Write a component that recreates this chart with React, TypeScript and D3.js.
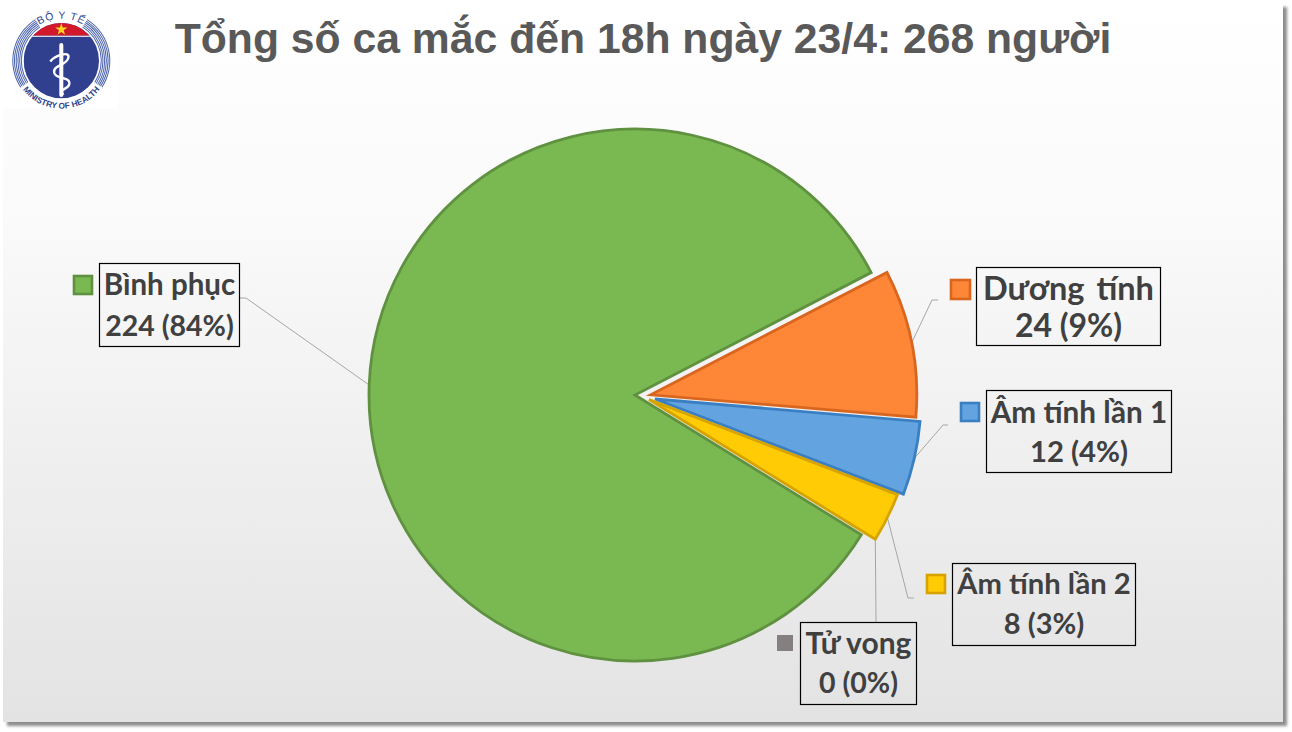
import React from "react"
import * as d3 from "d3"

// slices, in drawing order, clockwise from the start angle
const categories = ["Dương tính", "Âm tính lần 1", "Âm tính lần 2", "Tử vong", "Bình phục"]
const values = [24, 12, 8, 0, 224]
const fills = ["#fd8637", "#62a3e0", "#ffcb05", "#857f7f", "#7ab851"]
const strokes = ["#d9661f", "#3a7fc2", "#d6a300", "#857f7f", "#5f9140"]
// how far each slice is pulled away from the pie centre
const offsets = [[10.8, 0.8], [15, 5], [9, 5.5], [9, 5], [-5, 1]]

const titleText = "Tổng số ca mắc đến 18h ngày 23/4: 268 người"

// label boxes: x0, y0, x1, y1
const boxes = [
  [976.5, 267.5, 1160.5, 345.5],
  [986.5, 390.5, 1171.5, 472.5],
  [952.5, 563.5, 1135.5, 645.5],
  [800.5, 622.5, 916.5, 704.5],
  [99.5, 263.5, 239.5, 346.5],
]
const baselines = [[300, 337], [423, 462], [594, 634], [654, 693], [295, 336]]
const nameSizes = [32.5, 29.7, 29.2, 30, 29.5]
const valueSizes = [32, 29.3, 29, 28.5, 28.5]
const wordGaps = [4, 0, 0, 0, 0]
// legend key: x, y, size
const keys = [[951, 280, 19], [961, 403, 18], [927, 575, 18], [777, 635, 16], [74, 276, 18]]
// where the leader elbow sits and where it stops
const elbows = [
  [932, 300, 938, 300],
  [943, 425, 948, 425],
  [908, 598, 914, 598],
  [876, 622, 876, 622],
  [246, 298, 240, 298],
]

const W = 1292
const H = 732
const cx = 640
const cy = 394
const radius = 266
const startDeg = 62.6

const pct = d3.format(".0%")
const total = d3.sum(values)

const pie = d3.pie<number>().sort(null)
  .startAngle((startDeg * Math.PI) / 180)
  .endAngle((startDeg * Math.PI) / 180 + Math.PI * 2)
const arcs = pie(values)
const arc = d3.arc<d3.PieArcDatum<number>>().innerRadius(0).outerRadius(radius)

const polar = (a: number, r: number) => [Math.sin(a) * r, -Math.cos(a) * r]

const Logo = () => {
  const lcx = 61.3
  const lcy = 60.7
  const r = 37.7
  const redBottom = 35.7
  const ring = d3.arc()
  const ringRadii = [40, 41.7, 43.4, 45.1, 46.8, 48.5]
  const segs = [
    [-2.15, -0.56],
    [0.56, 2.15],
  ]
  const star = d3.symbol(d3.symbolStar, 46)()
  const snake = `M ${lcx - 11} 61.5 C ${lcx - 7} 56 ${lcx + 9} 50 ${lcx + 7} 58 C ${lcx + 5} 66 ${lcx - 9} 65 ${lcx - 7} 73 C ${lcx - 5} 80 ${lcx + 9} 76 ${lcx + 8} 84 C ${lcx + 7} 90 ${lcx - 3} 88 ${lcx + 2} 95`
  return (
    <g>
      <rect x={3} y={3} width={115} height={105} fill="#ffffff" />
      <defs>
        <clipPath id="logoClip">
          <circle cx={lcx} cy={lcy} r={r} />
        </clipPath>
        <path id="logoTop" d={`M ${lcx - 42} ${lcy} A 42 42 0 0 1 ${lcx + 42} ${lcy}`} />
        <path id="logoBottom" d={`M ${lcx - 48} ${lcy} A 48 48 0 0 0 ${lcx + 48} ${lcy}`} />
      </defs>
      {ringRadii.map((rr) =>
        segs.map((s, i) => (
          <path
            key={`${rr}-${i}`}
            transform={`translate(${lcx},${lcy})`}
            d={ring({ innerRadius: rr - 0.5, outerRadius: rr + 0.5, startAngle: s[0], endAngle: s[1] }) || ""}
            fill="#4a62ab"
          />
        ))
      )}
      <g clipPath="url(#logoClip)">
        <rect x={lcx - r} y={lcy - r} width={r * 2} height={r * 2} fill="#303f8e" />
        <rect x={lcx - r} y={lcy - r} width={r * 2} height={redBottom - lcy + r} fill="#d2182b" />
        <rect x={lcx - r} y={redBottom} width={r * 2} height={1.2} fill="#e8e8f0" />
      </g>
      <path d={star || ""} transform={`translate(${lcx},29.5)`} fill="#ffd61f" />
      <rect x={lcx - 2} y={43} width={4} height={54} rx={2} fill="#ffffff" />
      <path d={snake} fill="none" stroke="#ffffff" strokeWidth={2.4} />
      <text fontFamily="Liberation Sans" fontSize={10.5} fill="#303f8e" letterSpacing={0.8}>
        <textPath href="#logoTop" startOffset="50%" textAnchor="middle">BỘ Y TẾ</textPath>
      </text>
      <text fontFamily="Liberation Sans" fontSize={8.4} fontWeight={700} fill="#303f8e">
        <textPath href="#logoBottom" startOffset="50%" textAnchor="middle">MINISTRY OF HEALTH</textPath>
      </text>
    </g>
  )
}

export default function App() {
  return (
    <svg width={W} height={H} style={{ position: "absolute", left: 0, top: 0, display: "block" }}>
      <defs>
        <linearGradient id="panelFill" x1="0" y1="0" x2="0" y2="1">
          <stop offset="0" stopColor="#ffffff" />
          <stop offset="0.3" stopColor="#fafafa" />
          <stop offset="1" stopColor="#e3e3e3" />
        </linearGradient>
        <filter id="panelShadow" x="-2%" y="-2%" width="104%" height="104%">
          <feGaussianBlur stdDeviation="1.4" />
        </filter>
      </defs>
      <rect x={0} y={0} width={W} height={H} fill="#ffffff" />
      <rect x={7} y={7} width={1280} height={719} fill="#8c8c8c" filter="url(#panelShadow)" />
      <rect x={3} y={3} width={1280} height={719} fill="url(#panelFill)" />

      <text
        x={643}
        y={53}
        textAnchor="middle"
        fontFamily="Liberation Sans"
        fontWeight={700}
        fontSize={42.7}
        fill="#595959"
      >
        {titleText}
      </text>
      <Logo />

      {arcs.map((d, i) => {
        const mid = (d.startAngle + d.endAngle) / 2
        const [ox, oy] = offsets[i]
        const [ex, ey] = polar(mid, radius)
        const e = elbows[i]
        return (
          <polyline
            key={categories[i]}
            points={`${cx + ox + ex},${cy + oy + ey} ${e[0]},${e[1]} ${e[2]},${e[3]}`}
            fill="none"
            stroke="#a6a6a6"
            strokeWidth={1}
          />
        )
      })}

      {arcs.map((d, i) => {
        if (d.value === 0) return null
        const [ox, oy] = offsets[i]
        return (
          <path
            key={categories[i]}
            d={arc(d) || ""}
            transform={`translate(${cx + ox},${cy + oy})`}
            fill={fills[i]}
            stroke={strokes[i]}
            strokeWidth={2.8}
            strokeLinejoin="miter"
          />
        )
      })}

      {categories.map((c, i) => {
        const b = boxes[i]
        const k = keys[i]
        const tx = (b[0] + b[2]) / 2
        return (
          <g key={c}>
            <rect
              x={k[0]}
              y={k[1]}
              width={k[2]}
              height={k[2]}
              fill={fills[i]}
              stroke={strokes[i]}
              strokeWidth={i === 3 ? 0 : 2.6}
            />
            <rect x={b[0]} y={b[1]} width={b[2] - b[0]} height={b[3] - b[1]} fill="none" stroke="#000000" strokeWidth={1.2} />
            <text textAnchor="middle" fontFamily="Lato, 'Noto Sans', sans-serif" fontWeight={700} fill="#404040">
              <tspan x={tx} y={baselines[i][0]} fontSize={nameSizes[i]} wordSpacing={wordGaps[i]}>{c}</tspan>
              <tspan x={tx} y={baselines[i][1]} fontSize={valueSizes[i]}>{`${values[i]} (${pct(values[i] / total)})`}</tspan>
            </text>
          </g>
        )
      })}
    </svg>
  )
}
